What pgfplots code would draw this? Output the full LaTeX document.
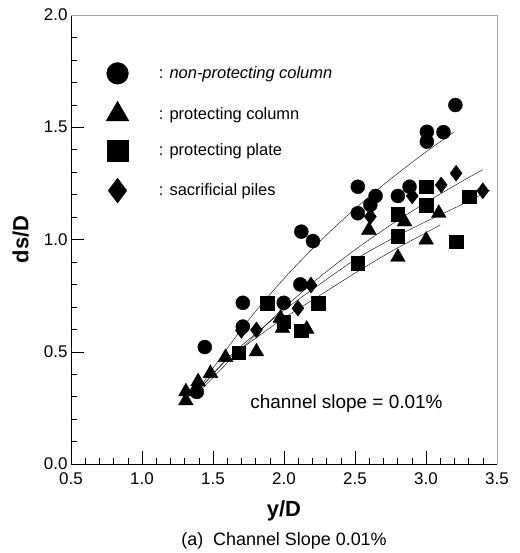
\documentclass[border=0pt]{standalone}
\usepackage{pgfplots}
\pgfplotsset{compat=1.18}
\usepackage{fontspec}
\setmainfont{Liberation Sans}

\begin{document}
\begin{tikzpicture}
\path[use as bounding box] (-71bp,-89bp) rectangle (449bp,464bp);
\begin{axis}[name=ax, scale only axis, width=426bp, height=449bp,
  xmin=0.5, xmax=3.5, ymin=0, ymax=2,
  axis lines*=left,
  axis line style={black, line width=0.6pt},
  xtick={0.5,1.0,1.5,2.0,2.5,3.0,3.5},
  ytick={0,0.5,1.0,1.5,2.0},
  minor tick num=4,
  tick align=inside,
  major tick length=13bp, minor tick length=6bp,
  tick style={black, line width=0.5pt},
  /pgf/number format/assume math mode=true,
  tick label style={font=\fontsize{17}{20}\selectfont},
  xticklabel style={yshift=-5bp, /pgf/number format/fixed, /pgf/number format/fixed zerofill, /pgf/number format/precision=1},
  yticklabel style={/pgf/number format/fixed, /pgf/number format/fixed zerofill, /pgf/number format/precision=1},
  xlabel={y/D}, ylabel={ds/D},
  label style={font=\fontsize{22}{26}\selectfont\bfseries},
  xlabel style={at={(axis description cs:0.5,-0.104)}, anchor=center},
  ylabel style={at={(axis description cs:-0.118,0.5)}, anchor=center},
  legend style={draw=none, fill=none, at={(axis description cs:0.075,0.899)}, anchor=north west,
    font=\fontsize{16.5}{19}\selectfont, row sep=17bp,
    /tikz/every odd column/.append style={column sep=28bp}},
  legend cell align=left,
  legend image post style={scale=1.55},
  clip=false,
]
% fitted curves
\addplot[forget plot, black, line width=0.4pt, smooth] coordinates {
 (1.38,0.311) (1.5,0.427) (1.75,0.641) (2.0,0.826) (2.25,0.990) (2.5,1.137) (2.75,1.269) (3.0,1.390) (3.2,1.480)};
\addplot[forget plot, black, line width=0.4pt, smooth] coordinates {
 (1.40,0.32) (1.6,0.45) (1.8,0.575) (2.0,0.695) (2.25,0.832) (2.5,0.954) (2.75,1.064) (3.0,1.165) (3.25,1.258) (3.4,1.311)};
\addplot[forget plot, black, line width=0.4pt, smooth] coordinates {
 (1.40,0.33) (1.6,0.47) (1.8,0.58) (2.0,0.685) (2.25,0.80) (2.5,0.91) (2.75,1.00) (3.0,1.08) (3.25,1.155) (3.45,1.22)};
\addplot[forget plot, black, line width=0.4pt, smooth] coordinates {
 (1.40,0.33) (1.5,0.40) (1.6,0.465) (1.8,0.56) (2.0,0.65) (2.25,0.75) (2.5,0.85) (2.75,0.945) (3.0,1.03) (3.1,1.065)};
% data
\addplot[only marks, mark=*, mark size=7bp, black] coordinates {
 (1.442,0.521) (1.386,0.321) (1.710,0.718) (1.710,0.612) (1.998,0.718) (2.115,0.800)
 (2.122,1.035) (2.204,0.993) (2.520,1.235) (2.645,1.194) (2.608,1.154) (2.520,1.117)
 (2.802,1.194) (2.884,1.235) (3.006,1.480) (3.006,1.436) (3.123,1.478) (3.207,1.599)};
\addlegendentry{: \textit{non-protecting column}}
\addplot[only marks, mark=triangle*, mark size=8.5bp, black] coordinates {
 (1.309,0.322) (1.309,0.282) (1.395,0.367) (1.482,0.404) (1.588,0.475) (1.806,0.500)
 (1.989,0.605) (1.975,0.650) (2.160,0.601) (2.802,0.921) (2.598,1.042) (2.849,1.079)
 (3.090,1.117) (3.001,0.998)};
\addlegendentry{: protecting column}
\addplot[only marks, mark=square*, mark size=6.8bp, black] coordinates {
 (1.681,0.496) (1.880,0.716) (1.998,0.634) (2.122,0.594) (2.239,0.716) (2.520,0.894)
 (2.802,1.114) (2.802,1.016) (3.001,1.235) (3.001,1.154) (3.212,0.990) (3.306,1.191)};
\addlegendentry{: protecting plate}
\addplot[only marks, mark=diamond*, mark size=8bp, black] coordinates {
 (1.700,0.595) (1.806,0.597) (2.098,0.694) (2.190,0.797) (2.608,1.102) (2.903,1.194)
 (3.107,1.243) (3.212,1.295) (3.400,1.217)};
\addlegendentry{: sacrificial piles}
\node[font=\fontsize{19}{22}\selectfont] at (axis cs:2.44,0.27) {channel slope = 0.01\%};
\draw[gray!70, line width=0.5pt] (rel axis cs:0,1) -- (rel axis cs:1,1) -- (rel axis cs:1,0);
\end{axis}
\node[font=\fontsize{18}{21}\selectfont] at ([yshift=-77bp]ax.south) {(a)\ \ Channel Slope 0.01\%};
\end{tikzpicture}
\end{document}
